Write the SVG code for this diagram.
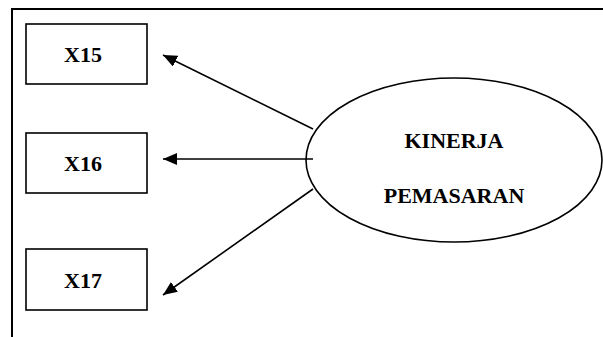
<svg xmlns="http://www.w3.org/2000/svg" width="603" height="337" viewBox="0 0 603 337">
  <defs>
    <marker id="arrow" markerWidth="14" markerHeight="12" refX="14" refY="6" orient="auto" markerUnits="userSpaceOnUse">
      <path d="M0,0 L14,6 L0,12 Z" fill="#000"/>
    </marker>
    <style>
      .frame { fill: none; stroke: #000; stroke-width: 2; }
      .box { fill: #fff; stroke: #000; stroke-width: 1.6; }
      .oval { fill: #fff; stroke: #000; stroke-width: 1.6; }
      .edge { fill: none; stroke: #000; stroke-width: 1.6; marker-end: url(#arrow); }
      .label { font-family: "Liberation Serif", "Times New Roman", serif; font-weight: bold; font-size: 22px; text-anchor: middle; fill: #000; }
    </style>
  </defs>
  <rect width="603" height="337" fill="#fff"/>

  <!-- page frame: top and left rules -->
  <path class="frame" d="M12,337 L12,9 L603,9"/>

  <!-- indicator boxes -->
  <g id="x15">
    <rect class="box" x="26" y="24" width="121" height="60"/>
    <text class="label" x="83" y="62">X15</text>
  </g>
  <g id="x16">
    <rect class="box" x="26" y="133" width="121" height="60"/>
    <text class="label" x="83" y="171">X16</text>
  </g>
  <g id="x17">
    <rect class="box" x="26" y="249" width="121" height="61"/>
    <text class="label" x="83" y="288">X17</text>
  </g>

  <!-- latent construct -->
  <g id="kinerja">
    <ellipse class="oval" cx="454" cy="160" rx="148" ry="82"/>
    <text class="label" x="454" y="148">KINERJA</text>
    <text class="label" x="454" y="203">PEMASARAN</text>
  </g>

  <!-- loadings -->
  <g id="connectors">
    <line class="edge" x1="313" y1="129" x2="163" y2="55"/>
    <line class="edge" x1="313" y1="159" x2="163" y2="159"/>
    <line class="edge" x1="313" y1="189" x2="163" y2="295"/>
  </g>
</svg>
